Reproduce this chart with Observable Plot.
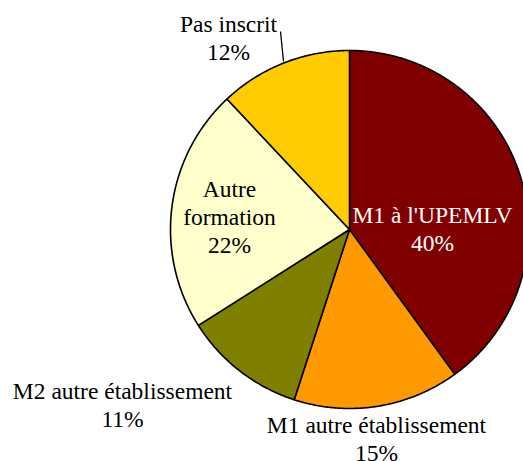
<!DOCTYPE html>
<html>
<head>
<meta charset="utf-8">
<script src="https://cdn.jsdelivr.net/npm/d3@7"></script>
<script src="https://cdn.jsdelivr.net/npm/@observablehq/plot@0.6"></script>
<style>
  html, body { margin: 0; padding: 0; background: #fff; font-family: "Liberation Serif", serif; }
  #chart svg, #chart svg text, #chart svg tspan { font-family: "Liberation Serif", "Times New Roman", Tinos, serif !important; }
  #note { position: absolute; left: 0; top: 0; width: 1px; height: 1px; overflow: hidden; color: #fff; font-size: 1px; }
</style>
</head>
<body>
<div id="chart"></div>
<div id="note">&nbsp;</div>
<script>
// ---- data ----
const categories = ["M1 à l'UPEMLV", "M1 autre établissement", "M2 autre établissement", "Autre formation", "Pas inscrit"];
const shares = [40, 15, 11, 22, 12];
const percentLabels = ["40%", "15%", "11%", "22%", "12%"];
const labelTexts = ["M1 à l'UPEMLV", "M1 autre établissement", "M2 autre établissement", "Autre\nformation", "Pas inscrit"];
const colors = ["#800000", "#FF9900", "#808000", "#FFFFCC", "#FFCC00"];
const labelColors = ["white", "black", "black", "black", "black"];

// ---- layout (pixels) ----
const W = 523, H = 461;
const cx = 349, cy = 229, R = 179;
const labelPos = [ // center x, last-line baseline y
  [432, 250], [376, 460], [122, 426], [229, 252], [228, 59]
];
const leader = [[280, 31], [283, 61]];
const toX = px => (px - cx) / R;
const toY = py => (cy - py) / R;
const FONT = "Liberation Serif, Times New Roman, Tinos, serif";

// ---- build slices ----
const total = d3.sum(shares);
const polys = [];
let cum = 0;
categories.forEach((c, i) => {
  const a0 = cum / total * 2 * Math.PI;
  cum += shares[i];
  const a1 = cum / total * 2 * Math.PI;
  polys.push({cat: c, x: 0, y: 0});
  const n = Math.max(2, Math.ceil((a1 - a0) / (Math.PI / 360)));
  for (let k = 0; k <= n; ++k) {
    const a = a0 + (a1 - a0) * k / n;
    polys.push({cat: c, x: Math.sin(a), y: Math.cos(a)});
  }
  polys.push({cat: c, x: 0, y: 0});
});

const labels = categories.map((c, i) => ({
  cat: c,
  text: labelTexts[i] + "\n" + percentLabels[i],
  x: toX(labelPos[i][0]),
  y: toY(labelPos[i][1]),
  color: labelColors[i]
}));

const plot = Plot.plot({
  width: W,
  height: H,
  margin: 0,
  x: {domain: [toX(0), toX(W)], axis: null},
  y: {domain: [toY(H), toY(0)], axis: null},
  color: {domain: categories, range: colors},
  style: {fontFamily: FONT},
  marks: [
    Plot.line(polys, {x: "x", y: "y", z: "cat", fill: "cat", stroke: "black", strokeWidth: 1.6, curve: "linear"}),
    Plot.link([{x1: toX(leader[0][0]), y1: toY(leader[0][1]), x2: toX(leader[1][0]), y2: toY(leader[1][1])}],
      {x1: "x1", y1: "y1", x2: "x2", y2: "y2", stroke: "black", strokeWidth: 1.3}),
    Plot.text(labels.filter(d => d.color === "white"), {x: "x", y: "y", text: "text", fill: "white", fontSize: 23.5,
      fontFamily: FONT, lineAnchor: "bottom", lineHeight: 1.19, textAnchor: "middle"}),
    Plot.text(labels.filter(d => d.color !== "white"), {x: "x", y: "y", text: "text", fill: "black", fontSize: 23.5,
      fontFamily: FONT, lineAnchor: "bottom", lineHeight: 1.19, textAnchor: "middle"})
  ]
});
plot.setAttribute("font-family", FONT);
plot.querySelectorAll("text, tspan").forEach(t => {
  t.setAttribute("font-family", FONT);
  t.style.fontFamily = FONT;
});
document.getElementById("chart").appendChild(plot);
</script>
</body>
</html>
